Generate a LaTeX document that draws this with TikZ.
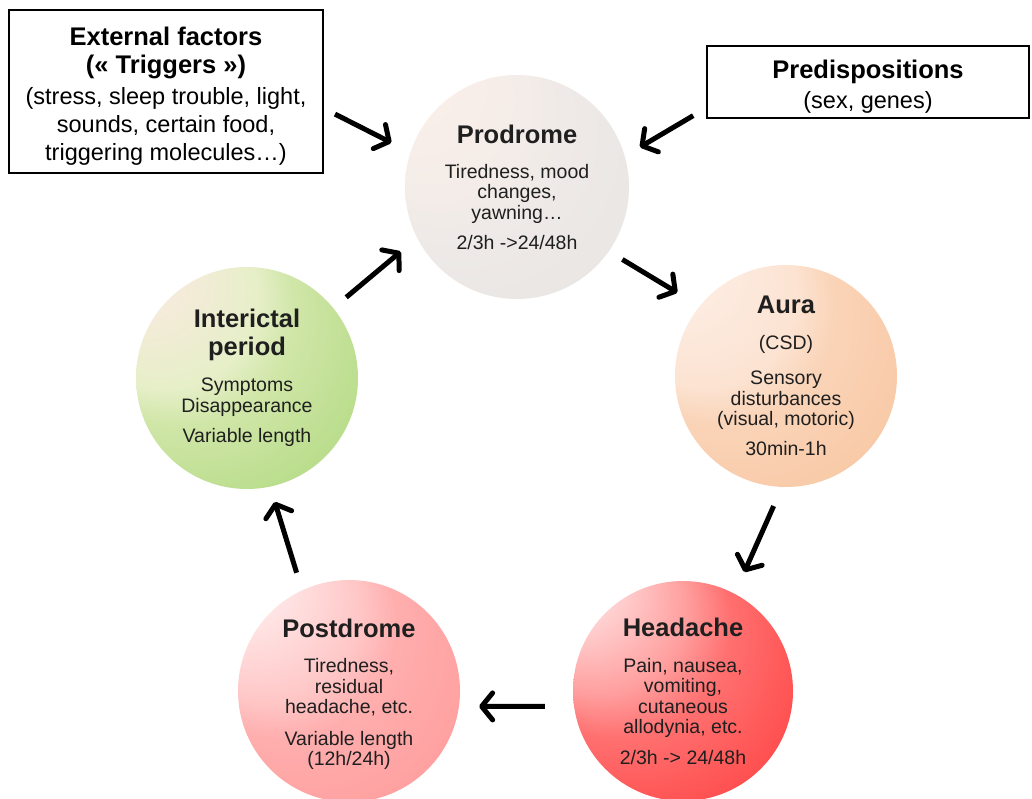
\documentclass[tikz,border=0pt]{standalone}
\usepackage{fontspec}
\setmainfont{Liberation Sans}
\usetikzlibrary{arrows.meta}
\definecolor{prA}{HTML}{FCF0EA}
\definecolor{prM}{HTML}{F3ECE8}
\definecolor{prN}{HTML}{EFEAE7}
\definecolor{prB}{HTML}{E4E2E0}
\definecolor{auA}{HTML}{FDEFE7}
\definecolor{auM}{HTML}{FCE3D2}
\definecolor{auN}{HTML}{FAD4B8}
\definecolor{auB}{HTML}{F6BE94}
\definecolor{hdA}{HTML}{FFF0F0}
\definecolor{hdM}{HTML}{FF9E9E}
\definecolor{hdN}{HTML}{FF7070}
\definecolor{hdB}{HTML}{FF2828}
\definecolor{poA}{HTML}{FFF2F2}
\definecolor{poM}{HTML}{FFC6C6}
\definecolor{poN}{HTML}{FFAEAE}
\definecolor{poB}{HTML}{FF9090}
\definecolor{inA}{HTML}{FCE9E3}
\definecolor{inM}{HTML}{E6EFC8}
\definecolor{inN}{HTML}{D0E6A8}
\definecolor{inB}{HTML}{9ED36A}
\pgfdeclareradialshading{prodshade}{\pgfpoint{-32bp}{32bp}}{color(0bp)=(prA); color(6bp)=(prA); color(21bp)=(prM); color(26bp)=(prN); color(50bp)=(prB)}
\pgfdeclareradialshading{aurashade}{\pgfpoint{-32bp}{32bp}}{color(0bp)=(auA); color(6bp)=(auA); color(21bp)=(auM); color(26bp)=(auN); color(50bp)=(auB)}
\pgfdeclareradialshading{headshade}{\pgfpoint{-32bp}{32bp}}{color(0bp)=(hdA); color(5bp)=(hdA); color(20bp)=(hdM); color(26bp)=(hdN); color(50bp)=(hdB)}
\pgfdeclareradialshading{postshade}{\pgfpoint{-32bp}{32bp}}{color(0bp)=(poA); color(6bp)=(poA); color(21bp)=(poM); color(26bp)=(poN); color(50bp)=(poB)}
\pgfdeclareradialshading{intershade}{\pgfpoint{-32bp}{32bp}}{color(0bp)=(inA); color(6bp)=(inA); color(21bp)=(inM); color(26bp)=(inN); color(50bp)=(inB)}
\newcommand{\phtitle}[1]{{\fontsize{25.5}{28}\selectfont\bfseries #1}}
\newcommand{\topstrut}[1]{\rule{0pt}{#1}}
\tikzset{
  phase/.style={circle, inner sep=0pt, outer sep=0pt, shade, align=center,
    font=\fontsize{19.5}{20.5}\selectfont, text=black!88},
  infobox/.style={rectangle, draw=black, line width=2pt, fill=white, inner sep=0pt, outer sep=0pt,
    align=center, font=\fontsize{23.5}{28}\selectfont},
  arr/.style={line width=5pt, -{Straight Barb[length=11pt,width=27pt,round]}}
}
\begin{document}
\begin{tikzpicture}[x=1pt,y=-1pt]
\useasboundingbox (0,0) rectangle (1032,799);
\path[fill=white] (0,0) rectangle (1032,799);

\node[phase, shading=prodshade, minimum size=224pt] (prod) at (517,187)
  {\phtitle{Prodrome}\\[14.5pt]Tiredness, mood\\changes,\\yawning…\\[9.5pt]2/3h ->24/48h};
\node[phase, shading=aurashade, minimum size=222pt] (aura) at (786,376)
  {\phtitle{Aura}\\[16pt](CSD)\\[14.5pt]Sensory\\disturbances\\(visual, motoric)\\[9.5pt]30min-1h};
\node[phase, shading=headshade, minimum size=220pt] (head) at (683,691)
  {\phtitle{Headache}\\[15.5pt]Pain, nausea,\\vomiting,\\cutaneous\\allodynia, etc.\\[10pt]2/3h -> 24/48h};
\node[phase, shading=postshade, minimum size=222pt] (post) at (349,691)
  {\topstrut{25pt}\phtitle{Postdrome}\\[15pt]Tiredness,\\residual\\headache, etc.\\[11pt]Variable length\\(12h/24h)};
\node[phase, shading=intershade, minimum size=222pt] (inter) at (247,378)
  {\phtitle{Interictal}\\[7.5pt]\phtitle{period}\\[15.5pt]Symptoms\\Disappearance\\[9.5pt]Variable length};

\node[infobox, minimum width=314pt, minimum height=163pt] (trig) at (166,91.5)
  {\topstrut{28pt}\phtitle{External factors}\\\phtitle{(« Triggers »)}\\[3.5pt](stress, sleep trouble, light,\\sounds, certain food,\\triggering molecules…)};
\node[infobox, minimum width=322pt, minimum height=72pt] (pred) at (868,82)
  {\topstrut{27pt}\phtitle{Predispositions}\\[2pt](sex, genes)};

\draw[arr, shorten <=13.5pt, shorten >=21.4pt] (trig.-6.3) -- (prod.162.8);
\draw[arr, shorten <=16pt, shorten >=17.7pt] (pred.189.9) -- (prod.16.3);
\draw[arr, shorten <=15.9pt, shorten >=26.1pt] (prod.-35.2) -- (aura.141.6);
\draw[arr, shorten <=20.9pt, shorten >=23.8pt] (aura.-92.9) -- (head.62.1);
\draw[arr, shorten <=29.2pt, shorten >=20.2pt] (head.188.4) -- (post.-8.3);
\draw[arr, shorten <=18.5pt, shorten >=16pt] (post.115.3) -- (inter.-78.4);
\draw[arr, shorten <=16.9pt, shorten >=21.4pt] (inter.39.3) -- (prod.207.4);
\end{tikzpicture}
\end{document}
